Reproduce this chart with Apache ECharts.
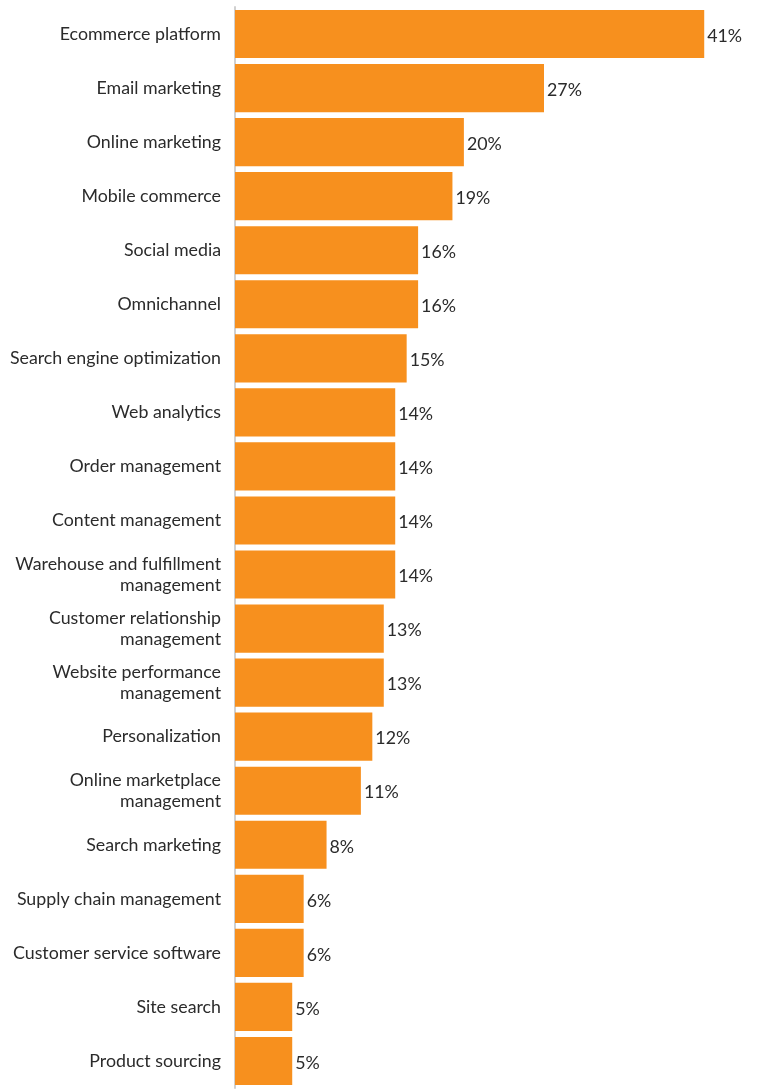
<!DOCTYPE html>
<html><head><meta charset="utf-8">
<script src="https://cdn.jsdelivr.net/npm/echarts@6/dist/echarts.min.js"></script>
<style>html,body{margin:0;padding:0;background:#fff}#c{width:757px;height:1089px}</style>
</head><body><div id="c"></div>
<script>
const categories = [
  "Ecommerce platform","Email marketing","Online marketing","Mobile commerce","Social media",
  "Omnichannel","Search engine optimization","Web analytics","Order management","Content management",
  "Warehouse and fulfillment\nmanagement","Customer relationship\nmanagement","Website performance\nmanagement",
  "Personalization","Online marketplace\nmanagement","Search marketing","Supply chain management",
  "Customer service software","Site search","Product sourcing"
];
const values = [41,27,20,19,16,16,15,14,14,14,14,13,13,12,11,8,6,6,5,5];

const chart = echarts.init(document.getElementById('c'));
chart.setOption({
  animation:false,
  grid:{left:235,right:7,top:7,bottom:1,containLabel:false},
  xAxis:{type:'value',min:0,max:45,show:false},
  yAxis:{type:'category',data:categories,inverse:true,
    axisLine:{show:true,lineStyle:{color:'#d0d0d0',width:2}},
    axisTick:{show:false},
    axisLabel:{color:'#2b2b2b',fontFamily:'Lato',fontSize:17.8,margin:14,lineHeight:21,align:'right',padding:[3,0,0,0]}
  },
  series:[{type:'bar',data:values,barCategoryGap:'11%',
    itemStyle:{color:'#F7901E'},
    label:{show:true,position:'right',distance:3,offset:[0,2],formatter:'{c}%',color:'#2b2b2b',fontFamily:'Lato',fontSize:17.8}
  }]
});
</script></body></html>
